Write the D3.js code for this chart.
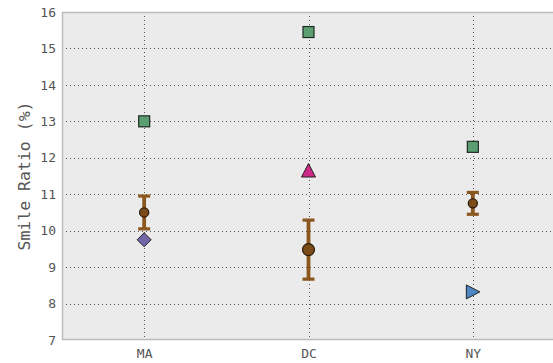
<!DOCTYPE html>
<html>
<head>
<meta charset="utf-8">
<script src="https://cdn.jsdelivr.net/npm/d3@7"></script>
<style>
  html, body { margin: 0; padding: 0; background: #fff; }
  svg { display: block; }
  text { font-family: "DejaVu Sans Mono", monospace; fill: #555; }
</style>
</head>
<body>
<svg id="chart" width="553" height="363"></svg>
<script>
// Cities along the x axis
const cities = ["MA", "DC", "NY"];
// Mean smile ratio with its error half-width
const meanRatio = [10.5, 9.48, 10.75];
const meanError = [0.45, 0.81, 0.3];
// Individual comparison points per city
const squareRatio = [13.0, 15.45, 12.3];
const diamondRatio = [9.75];      // MA
const upTriangleRatio = [11.65];  // DC
const rightTriangleRatio = [8.32]; // NY
const yTicks = [7, 8, 9, 10, 11, 12, 13, 14, 15, 16];

// Marker radii for the mean circles (drawing style)
const meanRadius = [4.6, 6, 4.6];

const svg = d3.select("#chart");
const margin = { left: 62, top: 12, right: -2, bottom: 23 };
const W = 553, H = 363;

const x = d3.scaleLinear().domain([-0.5, 2.5]).range([margin.left, W - margin.right]);
const y = d3.scaleLinear().domain([7, 16]).range([H - margin.bottom, margin.top]);
const crisp = v => Math.round(v) + 0.5;

// Plot background
svg.append("rect")
  .attr("x", x(-0.5)).attr("y", y(16))
  .attr("width", x(2.5) - x(-0.5)).attr("height", y(7) - y(16))
  .attr("fill", "#ebebeb");

// Dotted grid
const grid = svg.append("g").attr("shape-rendering", "crispEdges");
grid.selectAll("line.h").data(yTicks.slice(1, -1)).join("line")
  .attr("x1", x(-0.5)).attr("x2", x(2.5))
  .attr("y1", d => crisp(y(d))).attr("y2", d => crisp(y(d)))
  .attr("stroke", "#555").attr("stroke-width", 1)
  .attr("stroke-dasharray", "1,3");
grid.selectAll("line.v").data(cities).join("line")
  .attr("x1", (d, i) => crisp(x(i))).attr("x2", (d, i) => crisp(x(i)))
  .attr("y1", y(16)).attr("y2", y(7))
  .attr("stroke", "#555").attr("stroke-width", 1)
  .attr("stroke-dasharray", "1,3");

// Frame
svg.append("rect")
  .attr("x", x(-0.5) + 0.5).attr("y", y(16) + 0.5)
  .attr("width", x(2.5) - x(-0.5)).attr("height", y(7) - y(16) - 1)
  .attr("fill", "none").attr("stroke", "#bbb").attr("stroke-width", 1.5);

// Axes
const yAxis = d3.axisLeft(y).tickValues(yTicks).tickSize(0).tickPadding(6).tickFormat(d3.format("d"));
const gy = svg.append("g").attr("transform", `translate(${x(-0.5)},0)`).call(yAxis);
gy.select(".domain").remove();
gy.selectAll("text").attr("font-size", 13).attr("fill", "#555")
  .style("font-family", "'DejaVu Sans Mono', monospace");

const xAxis = d3.axisBottom(x).tickValues([0, 1, 2]).tickSize(0).tickPadding(9)
  .tickFormat(i => cities[i]);
const gx = svg.append("g").attr("transform", `translate(0,${y(7)})`).call(xAxis);
gx.select(".domain").remove();
gx.selectAll("text").attr("font-size", 13).attr("fill", "#555")
  .style("font-family", "'DejaVu Sans Mono', monospace");

// Y axis label
svg.append("text")
  .attr("transform", `translate(${30},${(y(16) + y(7)) / 2}) rotate(-90)`)
  .attr("text-anchor", "middle")
  .attr("font-size", 16.5)
  .attr("fill", "#555")
  .text("Smile Ratio (%)");

const marks = svg.append("g");

// Squares
marks.selectAll("rect.sq").data(squareRatio).join("rect")
  .attr("x", (d, i) => x(i) - 5.5).attr("y", d => y(d) - 5.5)
  .attr("width", 11).attr("height", 11)
  .attr("fill", "#5a9e71").attr("stroke", "#1f2a22").attr("stroke-width", 1.2);

// Diamond (MA)
marks.selectAll("path.dia").data(diamondRatio).join("path")
  .attr("d", "M0,-7L7,0L0,7L-7,0Z")
  .attr("transform", d => `translate(${x(0)},${y(d)})`)
  .attr("fill", "#7466a6").attr("stroke", "#222").attr("stroke-width", 1);

// Up triangle (DC)
marks.selectAll("path.tri").data(upTriangleRatio).join("path")
  .attr("d", "M0,-7L7,6.5L-7,6.5Z")
  .attr("transform", d => `translate(${x(1)},${y(d)})`)
  .attr("fill", "#cc2a86").attr("stroke", "#222").attr("stroke-width", 1);

// Right triangle (NY)
marks.selectAll("path.rtri").data(rightTriangleRatio).join("path")
  .attr("d", "M7,0L-6.5,7L-6.5,-7Z")
  .attr("transform", d => `translate(${x(2)},${y(d)})`)
  .attr("fill", "#4d87c2").attr("stroke", "#222").attr("stroke-width", 1);

// Error bars with caps
const eb = marks.selectAll("g.eb").data(meanRatio).join("g");
eb.append("line")
  .attr("x1", (d, i) => x(i)).attr("x2", (d, i) => x(i))
  .attr("y1", (d, i) => y(d - meanError[i])).attr("y2", (d, i) => y(d + meanError[i]))
  .attr("stroke", "#8a571e").attr("stroke-width", 3.8);
eb.append("line")
  .attr("x1", (d, i) => x(i) - 6).attr("x2", (d, i) => x(i) + 6)
  .attr("y1", (d, i) => y(d + meanError[i])).attr("y2", (d, i) => y(d + meanError[i]))
  .attr("stroke", "#8a571e").attr("stroke-width", 3.2);
eb.append("line")
  .attr("x1", (d, i) => x(i) - 6).attr("x2", (d, i) => x(i) + 6)
  .attr("y1", (d, i) => y(d - meanError[i])).attr("y2", (d, i) => y(d - meanError[i]))
  .attr("stroke", "#8a571e").attr("stroke-width", 3.2);
eb.append("circle")
  .attr("cx", (d, i) => x(i)).attr("cy", d => y(d))
  .attr("r", (d, i) => meanRadius[i])
  .attr("fill", "#7a4a18").attr("stroke", "#2a1a08").attr("stroke-width", 1.2);
</script>
</body>
</html>
